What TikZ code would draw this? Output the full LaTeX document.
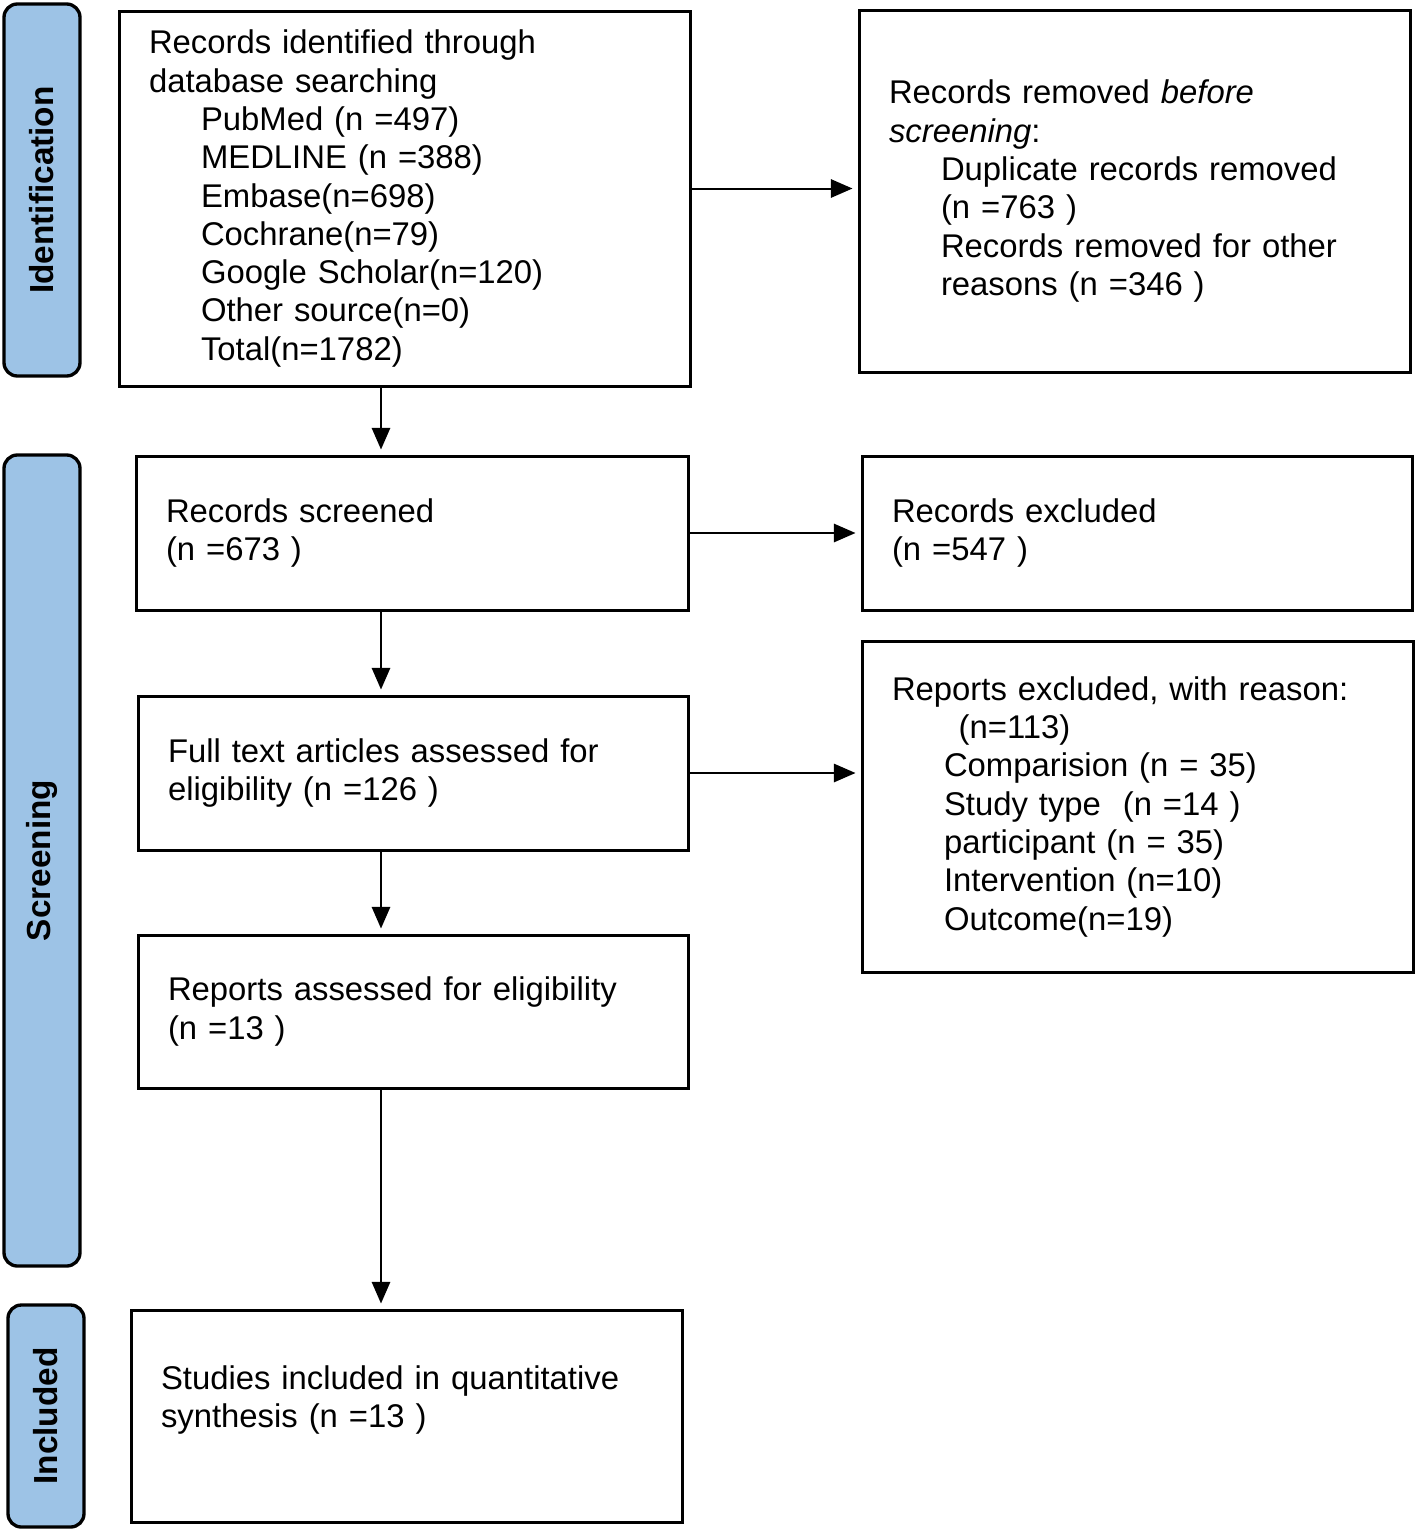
\documentclass[tikz,border=0pt]{standalone}
\usepackage{fontspec}
\setmainfont{Liberation Sans}
\usetikzlibrary{arrows.meta}
\definecolor{phaseblue}{RGB}{157,195,230}
\newcommand{\subin}{\hspace*{15.6pt}}

\begin{document}
\begin{tikzpicture}[x=0.3pt,y=-0.3pt,font=\fontsize{9.85}{11.5}\selectfont,>={Triangle[length=6.5pt,width=5.5pt]}]
	\useasboundingbox (0,0) rectangle (1416,1531);

	\begin{scope}[every node/.style={draw,rounded corners=4pt,line width=1pt,fill=phaseblue,rotate=90,minimum height=22.8pt,inner sep=0pt,font=\fontsize{10}{11.5}\selectfont\bfseries}]
		\node[minimum width=111.6pt] (idphase) at (42,190) {Identification};
		\node[minimum width=243.3pt] (scrphase) at (42,860.5) {Screening};
		\node[minimum width=66.6pt] (incphase) at (46,1416) {Included};
	\end{scope}

	\begin{scope}[every node/.style={draw,line width=0.9pt,align=left,inner xsep=9pt,text width=147.3pt}]
		\node[text width=153.3pt,minimum height=112.5pt] (ident) at (404.5,198.5) {Records identified through\\database searching\\\subin PubMed (n =497)\\\subin MEDLINE (n =388)\\\subin Embase(n=698)\\\subin Cochrane(n=79)\\\subin Google Scholar(n=120)\\\subin Other source(n=0)\\\subin Total(n=1782)};
		\node[minimum height=108.6pt] (removed) at (1134.5,191) {Records removed \textit{before}\\\textit{screening}:\\\subin Duplicate records removed\\\subin (n =763 )\\\subin Records removed for other\\\subin reasons (n =346 )};
		\node[text width=147.6pt,minimum height=46.2pt] (screened) at (412,533) {Records screened\\(n =673 )};
		\node[text width=147pt,minimum height=46.2pt] (excluded) at (1137,533) {Records excluded\\(n =547 )};
		\node[text width=147pt,minimum height=46.2pt] (fulltext) at (413,773) {Full text articles assessed for\\eligibility (n =126 )};
		\node[minimum height=99.3pt] (reasons) at (1137.5,806.5) {Reports excluded, with reason:\\\hspace*{20pt}(n=113)\\\subin Comparision (n = 35)\\\subin Study type\ \ (n =14 )\\\subin participant (n = 35)\\\subin Intervention (n=10)\\\subin Outcome(n=19)};
		\node[text width=147pt,minimum height=45.9pt] (assessed) at (413,1011.5) {Reports assessed for eligibility\\(n =13 )};
		\node[minimum height=63.6pt] (included) at (406.5,1416) {Studies included in quantitative\\synthesis (n =13 )\\\mbox{}};
	\end{scope}

	\coordinate (spine) at (381,0);
	\begin{scope}[every edge/.style={draw=black,line width=0.6pt,shorten >=1.5pt}]
		\path [->] ([yshift=3pt]ident.east) edge ([yshift=3pt]ident.east -| removed.west);
		\path [->] (screened.east) edge (screened.east -| excluded.west);
		\path [->] (fulltext.east) edge (fulltext.east -| reasons.west);
		\path [->] (ident.south -| spine) edge (screened.north -| spine);
		\path [->] (screened.south -| spine) edge (fulltext.north -| spine);
		\path [->] (fulltext.south -| spine) edge (assessed.north -| spine);
		\path [->] (assessed.south -| spine) edge (included.north -| spine);
	\end{scope}
\end{tikzpicture}
\end{document}
